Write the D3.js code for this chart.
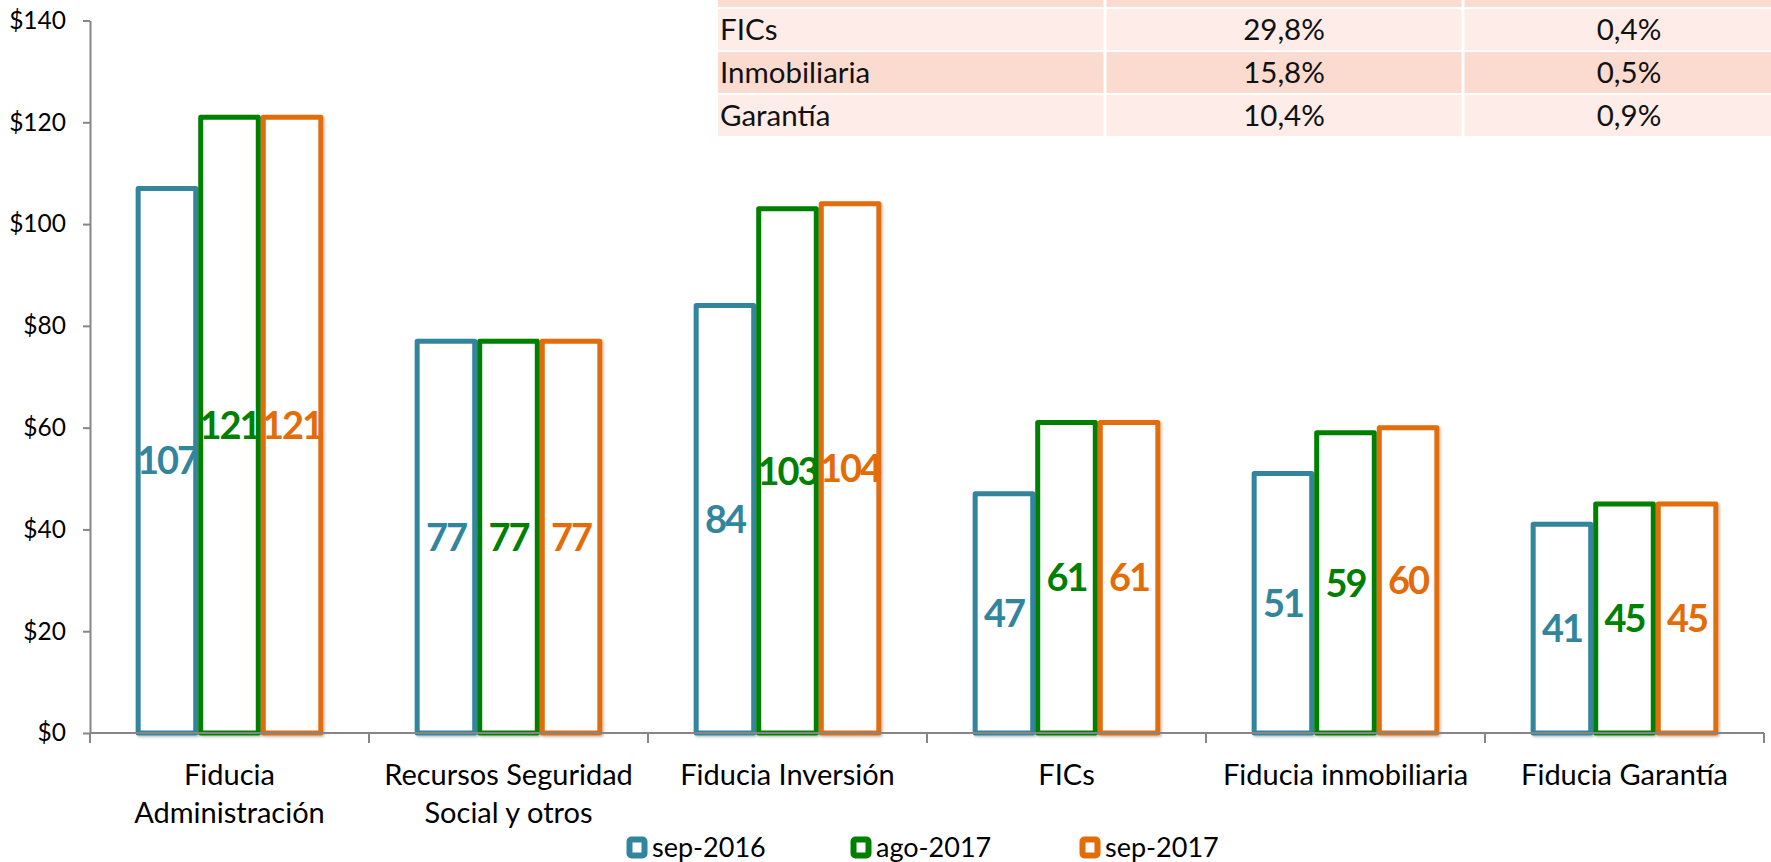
<!DOCTYPE html>
<html>
<head>
<meta charset="utf-8">
<script src="https://cdn.jsdelivr.net/npm/d3@7"></script>
<style>
  html, body { margin: 0; padding: 0; background: #fff; overflow: hidden; }
  svg { display: block; font-family: Lato, "Open Sans", sans-serif; }
</style>
</head>
<body>
<div class="chart"></div>
<script>

// categorias del eje x (cada una puede tener dos lineas)
const categorias = [
  ["Fiducia", "Administración"],
  ["Recursos Seguridad", "Social y otros"],
  ["Fiducia Inversión"],
  ["FICs"],
  ["Fiducia inmobiliaria"],
  ["Fiducia Garantía"]
];

const series = ["sep-2016", "ago-2017", "sep-2017"];
const colores = ["#31859C", "#008000", "#E36C09"];

const valSep2016 = [107, 77, 84, 47, 51, 41];
const valAgo2017 = [121, 77, 103, 61, 59, 45];
const valSep2017 = [121, 77, 104, 61, 60, 45];

const ticksY = [0, 20, 40, 60, 80, 100, 120, 140];

// tabla de arriba a la derecha
const tablaNombres = ["FICs", "Inmobiliaria", "Garantía"];
const tablaCol2 = ["29,8%", "15,8%", "10,4%"];
const tablaCol3 = ["0,4%", "0,5%", "0,9%"];

const width = 1771;
const height = 862;

const margin = { left: 90, right: 7, top: 20.5, bottom: 129 };

const svg = d3.select(".chart").append("svg")
    .attr("width", width)
    .attr("height", height);

const defs = svg.append("defs");
const sombra = defs.append("filter").attr("id", "sombra")
    .attr("x", "-10%").attr("y", "-10%").attr("width", "130%").attr("height", "130%");
sombra.append("feDropShadow")
    .attr("dx", 1.5).attr("dy", 1.5).attr("stdDeviation", 1.2)
    .attr("flood-color", "#000").attr("flood-opacity", 0.25);

const nombresCat = categorias.map(c => c.join(" "));
const valores = [valSep2016, valAgo2017, valSep2017];

const y = d3.scaleLinear()
    .domain([0, 140])
    .range([height - margin.bottom, margin.top]);

const x0 = d3.scaleBand()
    .domain(nombresCat)
    .range([margin.left, width - margin.right])
    .paddingInner(0)
    .paddingOuter(0);

const x1 = d3.scaleBand()
    .domain(series)
    .range([0, x0.bandwidth()])
    .paddingInner(0)
    .paddingOuter(0.73);

// ---- tabla ----
const tabla = svg.append("g");
const colX = [718, 1105, 1463, 1795];
const filaY = d3.scaleBand()
    .domain(d3.range(-1, tablaNombres.length))
    .range([-34, 136])
    .paddingInner(0.05);

const filas = tabla.selectAll("g")
    .data(d3.range(-1, tablaNombres.length))
    .join("g");

filas.selectAll("rect")
    .data(f => [0, 1, 2].map(c => ({ f, c })))
    .join("rect")
      .attr("x", d => colX[d.c] + (d.c ? 1.5 : 0))
      .attr("y", d => filaY(d.f))
      .attr("width", d => colX[d.c + 1] - colX[d.c] - (d.c ? 1.5 : 0) - 1.5)
      .attr("height", filaY.bandwidth())
      .attr("fill", d => (d.f % 2 === 0) ? "#FDECE7" : "#FBDBD0");

const textoTabla = tabla.append("g")
    .attr("font-size", 29.5)
    .attr("fill", "#111");

tablaNombres.forEach((n, i) => {
  const cy = filaY(i) + filaY.bandwidth() / 2;
  textoTabla.append("text")
      .attr("x", colX[0] + 2).attr("y", cy).attr("dy", "0.36em")
      .text(n);
  textoTabla.append("text")
      .attr("x", (colX[1] + colX[2]) / 2).attr("y", cy).attr("dy", "0.36em")
      .attr("text-anchor", "middle")
      .text(tablaCol2[i]);
  textoTabla.append("text")
      .attr("x", (colX[2] + colX[3]) / 2).attr("y", cy).attr("dy", "0.36em")
      .attr("text-anchor", "middle")
      .text(tablaCol3[i]);
});

// ---- ejes ----
const ejeY = svg.append("g")
    .attr("transform", `translate(${margin.left},0)`)
    .call(d3.axisLeft(y).tickValues(ticksY).tickFormat(d => "$" + d)
        .tickSize(7).tickSizeOuter(0).tickPadding(17));
ejeY.select(".domain").attr("stroke", "#868686").attr("stroke-width", 2);
ejeY.selectAll(".tick line").attr("stroke", "#868686").attr("stroke-width", 2);
ejeY.selectAll(".tick text")
    .attr("font-size", 24.5)
    .attr("font-family", "Lato, sans-serif")
    .attr("fill", "#000");

// barras
const grupos = svg.append("g")
  .selectAll("g")
  .data(nombresCat)
  .join("g")
    .attr("transform", d => `translate(${x0(d)},0)`);

grupos.selectAll("rect")
  .data((d, i) => series.map((s, k) => ({ s, k, v: valores[k][i] })))
  .join("rect")
    .attr("x", d => x1(d.s) + 2.5)
    .attr("y", d => y(d.v))
    .attr("width", x1.bandwidth() - 5)
    .attr("height", d => y(0) - y(d.v))
    .attr("fill", "#fff")
    .attr("stroke", d => colores[d.k])
    .attr("stroke-width", 5)
    .attr("stroke-linejoin", "round")
    .attr("filter", "url(#sombra)");

// eje x
const base = y(0);
const ejeX = svg.append("g");
ejeX.append("line")
    .attr("x1", margin.left).attr("x2", width - margin.right)
    .attr("y1", base).attr("y2", base)
    .attr("stroke", "#868686").attr("stroke-width", 2);
ejeX.selectAll(".marca")
  .data(nombresCat.map(d => x0(d)).concat([x0.range()[1]]))
  .join("line")
    .attr("class", "marca")
    .attr("x1", d => d).attr("x2", d => d)
    .attr("y1", base).attr("y2", base + 10)
    .attr("stroke", "#868686").attr("stroke-width", 2);

const etiquetas = ejeX.selectAll("text")
  .data(categorias)
  .join("text")
    .attr("x", (d, i) => x0(nombresCat[i]) + x0.bandwidth() / 2)
    .attr("y", base + 52)
    .attr("text-anchor", "middle")
    .attr("font-size", 29)
    .attr("fill", "#000");
etiquetas.selectAll("tspan")
  .data(d => d)
  .join("tspan")
    .attr("x", function() { return d3.select(this.parentNode).attr("x"); })
    .attr("dy", (d, i) => i ? 38 : 0)
    .text(d => d);

// etiquetas de datos
grupos.selectAll(".valor")
  .data((d, i) => series.map((s, k) => ({ s, k, v: valores[k][i] })))
  .join("text")
    .attr("class", "valor")
    .attr("x", d => x1(d.s) + x1.bandwidth() / 2)
    .attr("y", d => (y(d.v) + y(0)) / 2)
    .attr("dy", "0.36em")
    .attr("text-anchor", "middle")
    .attr("font-size", 38)
    .attr("font-weight", "bold")
    .attr("letter-spacing", -2)
    .attr("fill", d => colores[d.k])
    .text(d => d.v);

// leyenda
const leyX = [627, 851, 1080];
const leyenda = svg.append("g")
  .selectAll("g")
  .data(series)
  .join("g")
    .attr("transform", (d, i) => `translate(${leyX[i]},837)`);

leyenda.append("rect")
    .attr("x", 2.5).attr("y", 2.5)
    .attr("width", 15).attr("height", 16)
    .attr("rx", 2)
    .attr("fill", "#fff")
    .attr("stroke", (d, i) => colores[i])
    .attr("stroke-width", 6);

leyenda.append("text")
    .attr("x", 25)
    .attr("y", 10.5)
    .attr("dy", "0.36em")
    .attr("font-size", 27)
    .attr("fill", "#000")
    .text(d => d);

</script>
</body>
</html>
